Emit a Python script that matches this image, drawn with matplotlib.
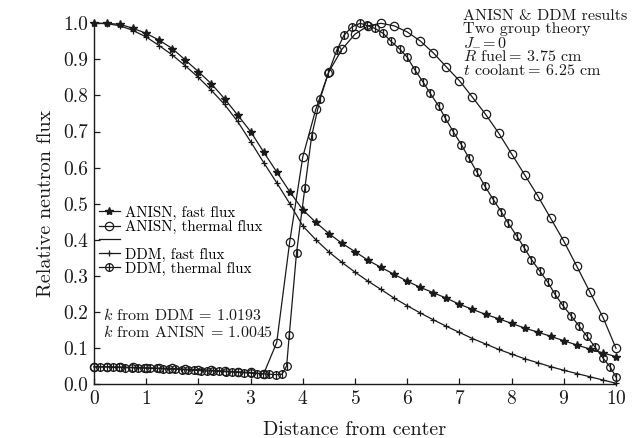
import numpy as np
import matplotlib
matplotlib.use("Agg")
import matplotlib.pyplot as plt
from matplotlib.path import Path
from matplotlib.lines import Line2D

plt.rcParams['font.family'] = ['cmr10', 'DejaVu Serif']
plt.rcParams['mathtext.fontset'] = 'cm'
plt.rcParams['axes.formatter.use_mathtext'] = True

# ANISN, fast flux (every 0.25 cm)
x_anisn_fast = [0, 0.25, 0.5, 0.75, 1.0, 1.25, 1.5, 1.75, 2.0, 2.25, 2.5, 2.75, 3.0, 3.25, 3.5, 3.75,
                4.0, 4.25, 4.5, 4.75, 5.0, 5.25, 5.5, 5.75, 6.0, 6.25, 6.5, 6.75, 7.0, 7.25, 7.5, 7.75,
                8.0, 8.25, 8.5, 8.75, 9.0, 9.25, 9.5, 9.75, 10.0]
y_anisn_fast = [1.0, 1.0, 0.997, 0.986, 0.972, 0.953, 0.930, 0.898, 0.866, 0.832, 0.791, 0.746, 0.700,
                0.643, 0.588, 0.533, 0.483, 0.448, 0.417, 0.390, 0.367, 0.343, 0.323, 0.304, 0.285,
                0.268, 0.253, 0.238, 0.221, 0.207, 0.193, 0.181, 0.168, 0.155, 0.144, 0.132, 0.120,
                0.108, 0.097, 0.086, 0.076]

# DDM, fast flux
x_ddm_fast = x_anisn_fast
y_ddm_fast = [1.0, 0.999, 0.993, 0.980, 0.962, 0.938, 0.912, 0.882, 0.850, 0.814, 0.775, 0.728, 0.672,
              0.614, 0.558, 0.500, 0.438, 0.400, 0.366, 0.337, 0.310, 0.285, 0.262, 0.238, 0.217,
              0.197, 0.178, 0.160, 0.143, 0.126, 0.111, 0.096, 0.083, 0.070, 0.059, 0.048, 0.038,
              0.029, 0.020, 0.011, 0.002]

# ANISN, thermal flux
x_anisn_th = x_anisn_fast
y_anisn_th = [0.048, 0.048, 0.047, 0.046, 0.045, 0.044, 0.043, 0.041, 0.040, 0.038, 0.036, 0.034, 0.032,
              0.028, 0.115, 0.395, 0.630, 0.762, 0.866, 0.928, 0.970, 0.993, 1.0, 0.993, 0.976,
              0.951, 0.918, 0.879, 0.841, 0.795, 0.748, 0.696, 0.638, 0.580, 0.522, 0.459, 0.396,
              0.326, 0.255, 0.185, 0.099]

# DDM, thermal flux
x_ddm_th = [0, 0.12, 0.24, 0.36, 0.48, 0.6, 0.72, 0.84, 0.96, 1.08, 1.2, 1.32, 1.44, 1.56, 1.68, 1.8,
            1.92, 2.04, 2.16, 2.28, 2.4, 2.52, 2.64, 2.76, 2.88, 3.0, 3.12, 3.24, 3.36, 3.48, 3.6,
            3.69, 3.74, 3.88, 4.04, 4.17, 4.33, 4.49, 4.65, 4.79, 4.94, 5.1, 5.23, 5.38, 5.54, 5.69,
            5.86, 6.0, 6.15, 6.3, 6.44, 6.6, 6.73, 6.88, 7.04, 7.18, 7.33, 7.49, 7.65, 7.8, 7.93,
            8.1, 8.24, 8.38, 8.54, 8.69, 8.83, 8.98, 9.14, 9.29, 9.44, 9.6, 9.75, 9.89, 10.0]
y_ddm_th = [0.047, 0.047, 0.047, 0.046, 0.046, 0.045, 0.045, 0.044, 0.044, 0.043, 0.043, 0.042, 0.041,
            0.041, 0.040, 0.039, 0.038, 0.037, 0.036, 0.036, 0.035, 0.034, 0.033, 0.032, 0.031, 0.030,
            0.029, 0.028, 0.027, 0.026, 0.027, 0.050, 0.135, 0.364, 0.544, 0.688, 0.790, 0.862,
            0.925, 0.967, 0.990, 1.0, 0.994, 0.986, 0.972, 0.950, 0.928, 0.906, 0.870, 0.838, 0.806,
            0.771, 0.737, 0.700, 0.663, 0.627, 0.589, 0.548, 0.511, 0.478, 0.447, 0.410, 0.378,
            0.345, 0.313, 0.283, 0.249, 0.218, 0.189, 0.161, 0.133, 0.102, 0.072, 0.047, 0.019]

xticks = np.arange(0, 11, 1)
yticks = np.round(np.arange(0, 1.01, 0.1), 1)

# circle with a vertical bar for the DDM thermal marker
circ_bar = Path.make_compound_path(Path.unit_circle(),
                                   Path([[0, -1], [0, 1]], [Path.MOVETO, Path.LINETO]))

col = '#1a1a1a'
fig = plt.figure(figsize=(6.34, 4.38), dpi=100)
ax = fig.add_axes([0.1483, 0.1233, 0.8233, 0.8235])

l1, = ax.plot(x_anisn_fast, y_anisn_fast, color=col, lw=0.9, marker='*', ms=6, clip_on=False)
l2, = ax.plot(x_anisn_th, y_anisn_th, color=col, lw=0.9, marker='o', ms=6, mfc='none', mew=0.9, clip_on=False)
l3, = ax.plot(x_ddm_fast, y_ddm_fast, color=col, lw=0.9, marker='+', ms=4, mew=0.9, clip_on=False)
l4, = ax.plot(x_ddm_th, y_ddm_th, color=col, lw=0.9, marker=circ_bar, ms=5.5, mfc='none', mew=0.9, clip_on=False)
blank = Line2D([], [], color=col, lw=0.9)

ax.legend([l1, l2, blank, l3, l4],
          ['ANISN, fast flux', 'ANISN, thermal flux', ' ', 'DDM, fast flux', 'DDM, thermal flux'],
          loc='upper left', bbox_to_anchor=(-0.005, 0.515), frameon=False, fontsize=10.8,
          numpoints=1, handlelength=1.4, handletextpad=0.35, labelspacing=0.0, borderpad=0)

ax.set_xlim(0, 10)
ax.set_ylim(0, 1.0)
ax.set_xticks(xticks)
ax.set_yticks(yticks)
ax.set_yticklabels([f'{v:.1f}' for v in yticks])
ax.tick_params(direction='in', length=4, width=0.9, labelsize=14, colors=col, pad=4)
for s in ['top', 'right']:
    ax.spines[s].set_visible(False)
for s in ['left', 'bottom']:
    ax.spines[s].set_linewidth(1.0)
    ax.spines[s].set_color(col)

ax.set_xlabel('Distance from center', fontsize=14.5, color=col, labelpad=10)
ax.set_ylabel('Relative neutron flux', fontsize=14.5, color=col, labelpad=6)

info = '\n'.join(['ANISN & DDM results', 'Two group theory', r'$J_{-}\!=0$',
                  r'$R$ fuel$=\,$3.75 cm', r'$t$ coolant$=\,$6.25 cm'])
fig.text(463 / 634, 1 - 9 / 438, info, fontsize=11.6, color=col, va='top', ha='left',
         linespacing=0.95)

fig.text(103 / 634, 1 - 315 / 438, r'$k$ from DDM$\,=\,$1.0193', fontsize=11.5, color=col, va='center')
fig.text(103 / 634, 1 - 332 / 438, r'$k$ from ANISN$\,=\,$1.0045', fontsize=11.5, color=col, va='center')

fig.savefig('out.png', dpi=100)
